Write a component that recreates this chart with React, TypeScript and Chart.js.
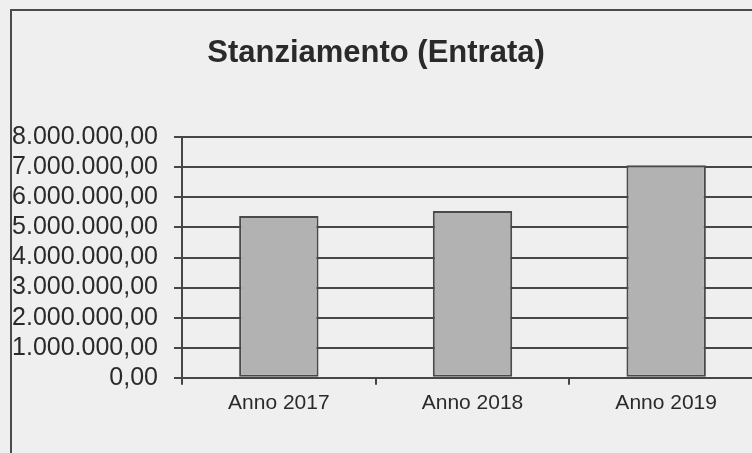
import React, { useEffect, useRef } from "react";
import { Chart, registerables } from "chart.js";

Chart.register(...registerables);

const chartTitle = "Stanziamento (Entrata)";
const categories = ["Anno 2017", "Anno 2018", "Anno 2019"];
const stanziamento = [5380000, 5550000, 7070000];
const yMin = 0;
const yMax = 8000000;
const yStep = 1000000;

function formatIt(v: number): string {
  const [intPart, decPart] = Math.abs(v).toFixed(2).split(".");
  const grouped = intPart.replace(/\B(?=(\d{3})+(?!\d))/g, ".");
  return (v < 0 ? "-" : "") + grouped + "," + decPart;
}

const INK = "#464646";
const TEXT = "#2a2a2a";
const FONT = "'Liberation Sans', Arial, Helvetica, sans-serif";

export default function App() {
  const ref = useRef<HTMLCanvasElement | null>(null);

  useEffect(() => {
    if (!ref.current) return;
    const chart = new Chart(ref.current, {
      type: "bar",
      data: {
        labels: categories,
        datasets: [
          {
            label: chartTitle,
            data: stanziamento,
            backgroundColor: "#b2b2b2",
            borderColor: "#4a4a4a",
            borderWidth: 2,
            borderSkipped: false,
            categoryPercentage: 1,
            barPercentage: 0.41,
          },
        ],
      },
      options: {
        responsive: false,
        animation: false,
        layout: { padding: { left: 0, right: 0, top: 0, bottom: 31 } },
        plugins: {
          legend: { display: false },
          tooltip: { enabled: false },
          title: {
            display: true,
            text: chartTitle,
            color: "#2a2a2a",
            font: { family: FONT, size: 31, weight: "bold" },
            padding: { top: 24, bottom: 65 },
          },
        },
        scales: {
          x: {
            grid: {
              display: true,
              drawOnChartArea: false,
              drawTicks: true,
              tickLength: 7,
              offset: true,
              color: INK,
              lineWidth: 2,
            },
            border: { display: true, color: INK, width: 2 },
            ticks: {
              color: TEXT,
              padding: 6,
              font: { family: FONT, size: 21 },
              maxRotation: 0,
              autoSkip: false,
            },
          },
          y: {
            min: yMin,
            max: yMax,
            afterFit: (scale: any) => {
              scale.width = 193;
            },
            grid: {
              drawOnChartArea: true,
              drawTicks: true,
              tickLength: 8,
              color: INK,
              lineWidth: 2,
            },
            border: { display: true, color: INK, width: 2 },
            ticks: {
              stepSize: yStep,
              autoSkip: false,
              color: TEXT,
              padding: 16,
              font: { family: FONT, size: 25 },
              callback: (v: any) => formatIt(Number(v)),
            },
          },
        },
      },
    });
    return () => chart.destroy();
  }, []);

  return (
    <div
      style={{
        position: "fixed",
        inset: 0,
        background: "#efefef",
        overflow: "hidden",
      }}
    >
      <div
        style={{
          position: "absolute",
          left: 10,
          top: 9,
          width: 800,
          height: 500,
          borderLeft: "2px solid #4a4a4a",
          borderTop: "2px solid #4a4a4a",
          overflow: "hidden",
        }}
      >
        <canvas
          ref={ref}
          width={774}
          height={442}
          style={{ position: "absolute", left: -23, top: 0, width: 774, height: 442 }}
        />
      </div>
    </div>
  );
}
